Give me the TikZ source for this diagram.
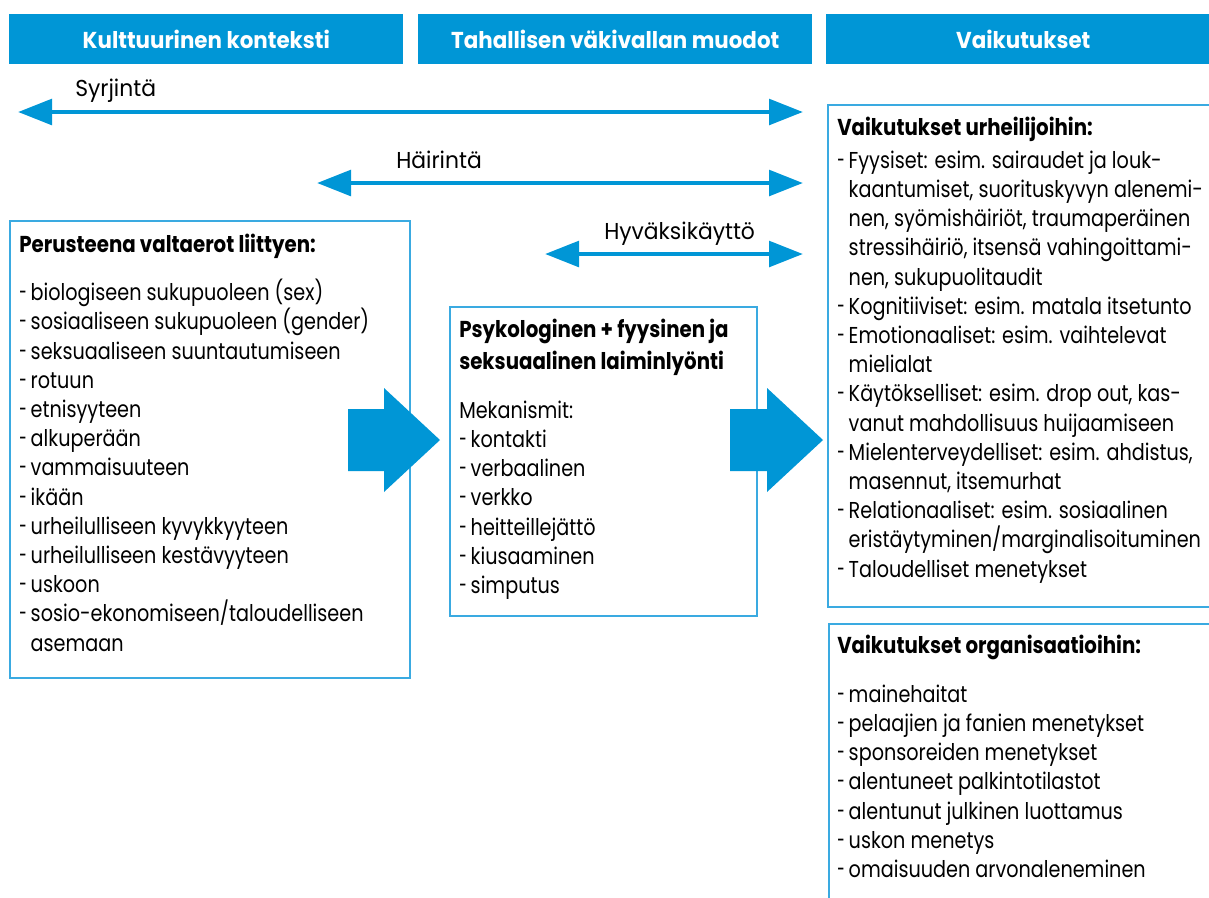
\documentclass[tikz,border=0pt]{standalone}
\usepackage{fontspec}
\usepackage{graphicx}
\setmainfont{Poppins}[FakeStretch=0.835]
\newfontfamily\hdrfont{Poppins}[FakeStretch=0.93]
\newfontfamily\ttlfont{Poppins}[FakeStretch=0.86]
\newfontfamily\lblfont{Poppins}[FakeStretch=0.95]
\usetikzlibrary{arrows.meta}
\definecolor{hdr}{RGB}{0,150,214}
\definecolor{bord}{RGB}{58,170,225}
\newcommand\mystrut{\rule{0pt}{15pt}}
\newcommand\dsh{\makebox[8.6pt][l]{\scalebox{0.7}[1]{-}}}
\newcommand\ind{\hspace*{8.6pt}}
\tikzset{
  hdrbox/.style={fill=hdr, draw=none, text=white, font=\fontsize{17.25pt}{21.9pt}\hdrfont\bfseries,
    minimum width=295.5pt, minimum height=37.5pt, inner sep=0pt, anchor=north west},
  frame/.style={draw=bord, line width=1.5pt, fill=white, inner sep=0pt, anchor=north west},
  body/.style={font=\fontsize{17.25pt}{21.9pt}\selectfont, align=left, inner sep=0pt, anchor=north west},
  ttl/.style={font=\fontsize{17.25pt}{24pt}\ttlfont\bfseries, align=left, inner sep=0pt, anchor=north west},
  lbl/.style={font=\fontsize{17.25pt}{21.9pt}\lblfont, inner sep=0pt, anchor=base west},
  thin/.style={draw=hdr, line width=3.5pt, {Triangle[length=25.5pt,width=19pt]}-{Triangle[length=25.5pt,width=19pt]}},
  block/.style={fill=hdr, draw=none}
}
\begin{document}
\begin{tikzpicture}[x=0.75pt,y=-0.75pt]
\useasboundingbox (0,0) rectangle (1209,897);

% headers
\node[hdrbox] (h1) at (9,14) {Kulttuurinen konteksti};
\node[hdrbox] (h2) at (418,14) {Tahallisen väkivallan muodot};
\node[hdrbox] (h3) at (826,14) {Vaikutukset};

% boxes
\node[frame, minimum width=300pt, minimum height=342.75pt] (left) at (9,220) {};
\node[frame, minimum width=230.25pt, minimum height=231.75pt] (mid) at (449,306) {};
\node[frame, minimum width=300pt, minimum height=376.5pt] (r1) at (827,104) {};
\node[frame, minimum width=300pt, minimum height=240pt] (r2) at (828,623) {};

% thin arrows
\coordinate (s1) at (18,112);  \coordinate (s2) at (803,112);
\coordinate (a1) at (317,183); \coordinate (a2) at (803,183);
\coordinate (b1) at (545,254); \coordinate (b2) at (803,254);
\draw[thin] (s1) -- (s2);
\draw[thin] (a1) -- (a2);
\draw[thin] (b1) -- (b2);
\node[lbl] (ls) at (75,96) {Syrjintä};
\node[lbl] (la) at (396,168) {Häirintä};
\node[lbl] (lb) at (604,239) {Hyväksikäyttö};

% block arrows
\fill[block] (348,409) -- (384,409) -- (384,388) -- (440,440) -- (384,492) -- (384,471) -- (348,471) -- cycle;
\fill[block] (730,409) -- (767,409) -- (767,388) -- (823,440) -- (767,492) -- (767,471) -- (730,471) -- cycle;

% left box text
\node[ttl] (lt) at (19,232) {\mystrut Perusteena valtaerot liittyen:};
\node[body] (ll) at (19,279) {\mystrut\dsh biologiseen sukupuoleen (sex)\\
\dsh sosiaaliseen sukupuoleen (gender)\\
\dsh seksuaaliseen suuntautumiseen\\
\dsh rotuun\\
\dsh etnisyyteen\\
\dsh alkuperään\\
\dsh vammaisuuteen\\
\dsh ikään\\
\dsh urheilulliseen kyvykkyyteen\\
\dsh urheilulliseen kestävyyteen\\
\dsh uskoon\\
\dsh sosio-ekonomiseen/taloudelliseen\\
\ind asemaan};

% middle box text
\node[ttl] (mt) at (459,317) {\mystrut Psykologinen + fyysinen ja\\seksuaalinen laiminlyönti};
\node[body] (ml) at (459,398) {\mystrut Mekanismit:\\
\dsh kontakti\\
\dsh verbaalinen\\
\dsh verkko\\
\dsh heitteillejättö\\
\dsh kiusaaminen\\
\dsh simputus};

% right box 1 text
\node[ttl] (rt1) at (837,115) {\mystrut Vaikutukset urheilijoihin:};
\node[body] (rl1) at (837,148) {\mystrut\dsh Fyysiset: esim. sairaudet ja louk-\\
\ind kaantumiset, suorituskyvyn alenemi-\\
\ind nen, syömishäiriöt, traumaperäinen\\
\ind stressihäiriö, itsensä vahingoittami-\\
\ind nen, sukupuolitaudit\\
\dsh Kognitiiviset: esim. matala itsetunto\\
\dsh Emotionaaliset: esim. vaihtelevat\\
\ind mielialat\\
\dsh Käytökselliset: esim. drop out, kas-\\
\ind vanut mahdollisuus huijaamiseen\\
\dsh Mielenterveydelliset: esim. ahdistus,\\
\ind masennut, itsemurhat\\
\dsh Relationaaliset: esim. sosiaalinen\\
\ind eristäytyminen/marginalisoituminen\\
\dsh Taloudelliset menetykset};

% right box 2 text
\node[ttl] (rt2) at (837,633) {\mystrut Vaikutukset organisaatioihin:};
\node[body] (rl2) at (837,682) {\mystrut\dsh mainehaitat\\
\dsh pelaajien ja fanien menetykset\\
\dsh sponsoreiden menetykset\\
\dsh alentuneet palkintotilastot\\
\dsh alentunut julkinen luottamus\\
\dsh uskon menetys\\
\dsh omaisuuden arvonaleneminen};
\end{tikzpicture}
\end{document}
